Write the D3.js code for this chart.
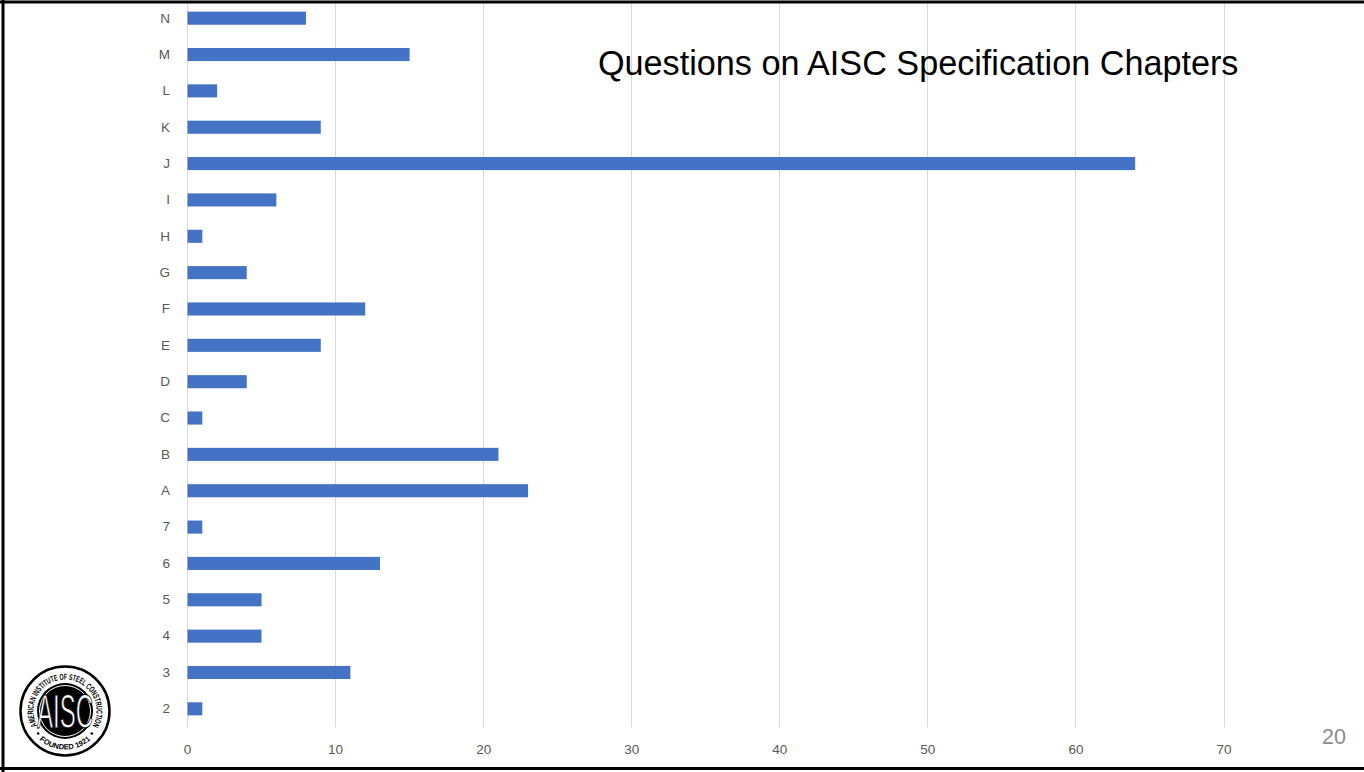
<!DOCTYPE html>
<html>
<head>
<meta charset="utf-8">
<script src="https://cdn.jsdelivr.net/npm/d3@7"></script>
<style>
  html, body { margin: 0; padding: 0; background: #fff; }
  svg { display: block; }
</style>
</head>
<body>
<svg id="chart" width="1364" height="772"></svg>
<script>
// ---- data ----
const categories = ["N","M","L","K","J","I","H","G","F","E","D","C","B","A","7","6","5","4","3","2"];
const values     = [ 8, 15,  2,  9, 64,  6,  1,  4, 12,  9,  4,  1, 21, 23,  1, 13,  5,  5, 11,  1];
const xTicks     = [0, 10, 20, 30, 40, 50, 60, 70];
const titleText  = "Questions on AISC Specification Chapters";
const pageNumber = "20";

const svg = d3.select("#chart");
const W = 1364, H = 772;

svg.append("rect").attr("width", W).attr("height", H).attr("fill", "#fff");

const x = d3.scaleLinear().domain([0, 70]).range([187, 1223.5]);
const y = d3.scaleBand().domain(categories).range([0, 727]).paddingInner(0.64).paddingOuter(0.32);

// gridlines
svg.append("g").selectAll("line").data(xTicks).join("line")
  .attr("x1", d => Math.round(x(d)) + 0.5).attr("x2", d => Math.round(x(d)) + 0.5)
  .attr("y1", 0).attr("y2", 727)
  .attr("stroke", "#d9d9d9").attr("stroke-width", 1);

// bars
svg.append("g").selectAll("rect").data(categories).join("rect")
  .attr("x", x(0) + 0.5)
  .attr("y", d => y(d))
  .attr("width", (d, i) => x(values[i]) - x(0))
  .attr("height", y.bandwidth())
  .attr("fill", "#4472c4");

// x axis tick labels
const xAxis = d3.axisBottom(x).tickValues(xTicks).tickSize(0).tickPadding(0);
const gx = svg.append("g").attr("transform", "translate(0,742)").call(xAxis);
gx.select(".domain").remove();
gx.selectAll("text").attr("fill", "#595959").attr("font-family", "Liberation Sans, Arial, sans-serif")
  .attr("font-size", 13.5).attr("dy", "0.9em").attr("y", 0);

// y axis labels
const yAxis = d3.axisLeft(y).tickSize(0).tickPadding(0);
const gy = svg.append("g").attr("transform", "translate(170,0)").call(yAxis);
gy.select(".domain").remove();
gy.selectAll("text").attr("fill", "#595959").attr("font-family", "Liberation Sans, Arial, sans-serif")
  .attr("font-size", 13.5);

// title
svg.append("text").attr("x", 598).attr("y", 74.5)
  .attr("font-family", "Liberation Sans, Arial, sans-serif").attr("font-size", 34.2)
  .attr("fill", "#000").text(titleText);

// page number
svg.append("text").attr("x", 1346).attr("y", 744).attr("text-anchor", "end")
  .attr("font-family", "Liberation Sans, Arial, sans-serif").attr("font-size", 21.5)
  .attr("fill", "#8c8c8c").text(pageNumber);

// frame
svg.append("line").attr("x1", 0).attr("x2", W).attr("y1", 2).attr("y2", 2).attr("stroke", "#000").attr("stroke-width", 3);
svg.append("line").attr("x1", 0).attr("x2", W).attr("y1", 768.5).attr("y2", 768.5).attr("stroke", "#000").attr("stroke-width", 3);
svg.append("line").attr("x1", 3).attr("x2", 3).attr("y1", 0).attr("y2", H).attr("stroke", "#000").attr("stroke-width", 3);

// AISC logo
const logo = svg.append("g").attr("transform", "translate(65,711)");
logo.append("circle").attr("r", 44.5).attr("fill", "#fff").attr("stroke", "#000").attr("stroke-width", 2.5);
const defs = svg.append("defs");
const rt = 31.5, a0 = 30 * Math.PI / 180;
defs.append("path").attr("id", "arcTop")
  .attr("d", `M ${-rt*Math.cos(a0)},${rt*Math.sin(a0)} A ${rt},${rt} 0 1 1 ${rt*Math.cos(a0)},${rt*Math.sin(a0)}`);
const rb = 38.5, b0 = 62 * Math.PI / 180;
defs.append("path").attr("id", "arcBot")
  .attr("d", `M ${-rb*Math.sin(b0)},${rb*Math.cos(b0)} A ${rb},${rb} 0 0 0 ${rb*Math.sin(b0)},${rb*Math.cos(b0)}`);
const topLen = rt * (240 * Math.PI / 180);
logo.append("text").attr("font-family", "Liberation Sans Narrow, Liberation Sans, sans-serif")
  .attr("font-weight", "bold").attr("font-size", 8.5).attr("fill", "#000")
  .append("textPath").attr("href", "#arcTop").attr("startOffset", "1%")
  .attr("textLength", topLen * 0.98).attr("lengthAdjust", "spacingAndGlyphs")
  .text("AMERICAN INSTITUTE OF STEEL CONSTRUCTION");
logo.append("text").attr("font-family", "Liberation Sans Narrow, Liberation Sans, sans-serif")
  .attr("font-weight", "bold").attr("font-size", 7.5).attr("fill", "#000")
  .append("textPath").attr("href", "#arcBot").attr("startOffset", "50%").attr("text-anchor", "middle")
  .text("FOUNDED 1921");
const dotA = 50 * Math.PI / 180;
logo.append("circle").attr("cx", -35 * Math.sin(dotA)).attr("cy", 35 * Math.cos(dotA)).attr("r", 1.3).attr("fill", "#000");
logo.append("circle").attr("cx", 35 * Math.sin(dotA)).attr("cy", 35 * Math.cos(dotA)).attr("r", 1.3).attr("fill", "#000");
logo.append("circle").attr("r", 28).attr("fill", "#000");
logo.append("circle").attr("r", 25.5).attr("fill", "none").attr("stroke", "#fff").attr("stroke-width", 1);
logo.append("text").attr("text-anchor", "middle")
  .attr("font-family", "Liberation Sans Narrow, Liberation Sans, sans-serif")
  .attr("font-size", 24).attr("fill", "#fff").attr("stroke", "#000").attr("stroke-width", 0.5)
  .attr("transform", "scale(1,2.0)").attr("y", 8.6)
  .text("AISC");
</script>
</body>
</html>
